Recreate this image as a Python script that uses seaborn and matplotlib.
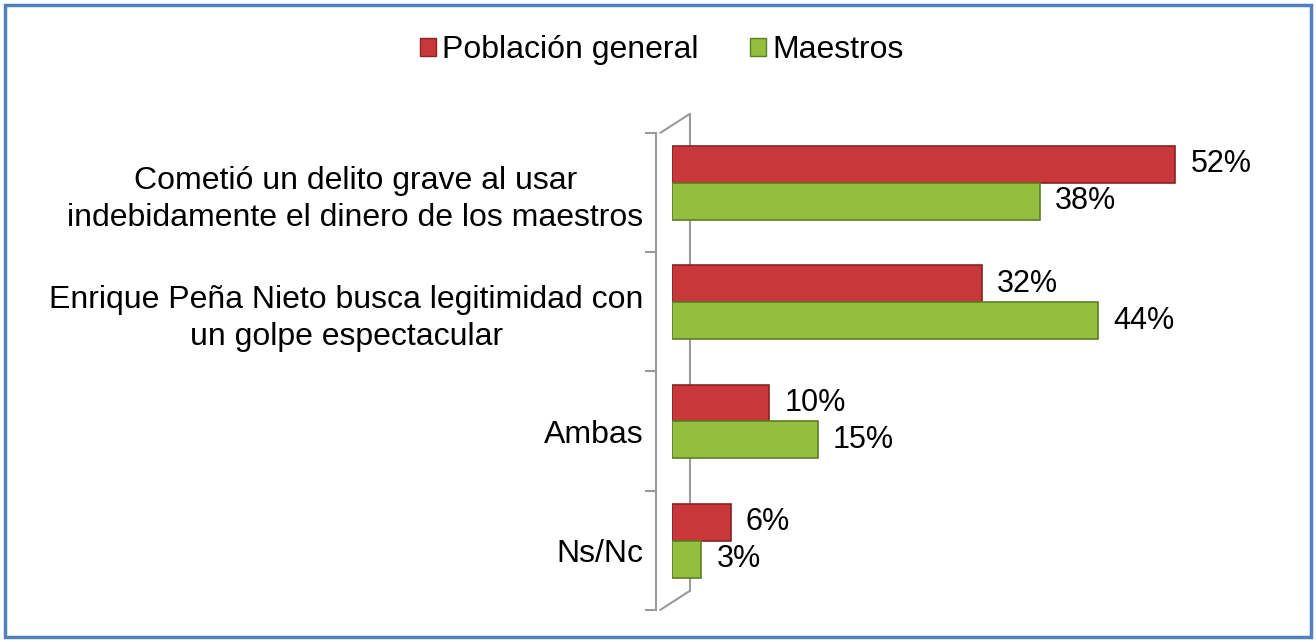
import pandas as pd
import numpy as np
import seaborn as sns
import matplotlib.pyplot as plt
from matplotlib.patches import Rectangle
from matplotlib.lines import Line2D

# data
categorias = [
    "Cometió un delito grave al usar\nindebidamente el dinero de los maestros",
    "Enrique Peña Nieto busca legitimidad con\nun golpe espectacular",
    "Ambas",
    "Ns/Nc",
]
poblacion = [52, 32, 10, 6]
maestros = [38, 44, 15, 3]
series = ["Población general", "Maestros"]

colores = {"Población general": "#C8383A", "Maestros": "#93BF3F"}
bordes = {"Población general": "#8A2222", "Maestros": "#5F7E24"}

df = pd.DataFrame({
    "categoria": categorias * 2,
    "valor": poblacion + maestros,
    "serie": [series[0]] * 4 + [series[1]] * 4,
})

sns.set_theme(style="white")
plt.rcParams['font.family'] = ['Liberation Sans', 'DejaVu Sans']
plt.rcParams['text.color'] = 'black'
plt.rcParams['ytick.labelcolor'] = 'black'

FS = 23

fig = plt.figure(figsize=(13.16, 6.42), dpi=100)
ax = fig.add_axes([0.511, 0.05, 0.441, 0.743])

sns.barplot(data=df, y="categoria", x="valor", hue="serie", orient="h",
            palette=colores, saturation=1, width=0.62, ax=ax, legend=False)

# small upward shift, like the 3D look of the original
for p in ax.patches:
    p.set_y(p.get_y() - 0.08)
for cont, s in zip(ax.containers, series):
    for p in cont:
        p.set_edgecolor(bordes[s])
        p.set_linewidth(1.2)
    ax.bar_label(cont, labels=[f"{int(v)}%" for v in cont.datavalues],
                 padding=11, fontsize=22, color="black")

ax.set_xlim(0, 60)
ax.set_ylim(3.5, -0.5)
ax.set_xlabel("")
ax.set_ylabel("")
ax.set_xticks([])
for side in ["top", "right", "bottom"]:
    ax.spines[side].set_visible(False)
ax.spines["left"].set_position(("outward", 12))
ax.spines["left"].set_color("#9A9A9A")
ax.spines["left"].set_linewidth(1.5)
ax.set_yticks(np.arange(-0.5, 4, 1), minor=True)
ax.tick_params(axis="y", which="minor", left=True, length=8, width=1.5, color="#9A9A9A")
ax.tick_params(axis="y", which="major", left=False, length=0, pad=9)
for t in ax.get_yticklabels():
    t.set_fontsize(FS)
    t.set_color("black")
    t.set_multialignment("center")
    t.set_linespacing(1.3)

# back wall of the 3D frame
ax.add_line(Line2D([0.03, 0.03], [0.04, 1.04], transform=ax.transAxes,
                   color="#9A9A9A", lw=1.5, clip_on=False, zorder=0))
ax.add_line(Line2D([-0.021, 0.03], [1.0, 1.04], transform=ax.transAxes,
                   color="#9A9A9A", lw=1.5, clip_on=False, zorder=0))
ax.add_line(Line2D([-0.021, 0.03], [0.0, 0.04], transform=ax.transAxes,
                   color="#9A9A9A", lw=1.5, clip_on=False, zorder=0))

handles = [Rectangle((0, 0), 1, 1, facecolor=colores[s], edgecolor=bordes[s]) for s in series]
fig.legend(handles, series, loc="center", bbox_to_anchor=(0.503, 0.922), ncol=2,
           frameon=False, fontsize=FS, handlelength=0.5, handleheight=0.5,
           handletextpad=0.2, columnspacing=1.6)

fig.patches.append(Rectangle((0.004, 0.008), 0.992, 0.984, transform=fig.transFigure,
                             fill=False, edgecolor="#4F81BD", linewidth=2.5))

fig.savefig("out.png", dpi=100)
